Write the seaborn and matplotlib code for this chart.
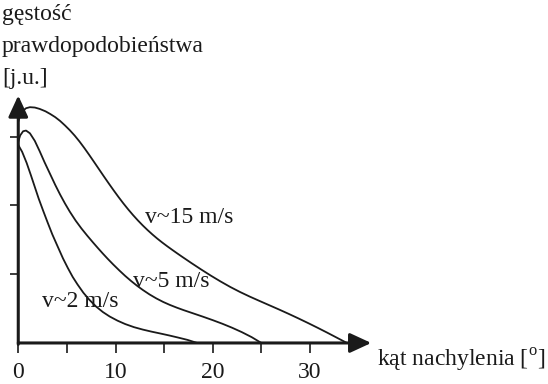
import matplotlib
matplotlib.use("Agg")
import matplotlib.pyplot as plt
import seaborn as sns
import pandas as pd

# curve data (angle in degrees, density in arbitrary units)
x_v15 = [0, 0.2, 0.5, 0.8, 1.2, 1.7, 2.2, 2.8, 3.3, 3.8, 4.3, 4.8, 5.3, 5.8, 6.3, 6.8,
         7.3, 7.8, 8.3, 8.8, 9.3, 9.8, 10.3, 10.8, 11.3, 11.8, 12.3, 12.8, 13.3, 13.8,
         14.3, 14.8, 15.3, 15.8, 16.3, 16.8, 17.8, 18.8, 19.8, 20.8, 21.8, 22.8, 23.8,
         24.8, 25.8, 26.8, 27.8, 28.8, 29.8, 30.8, 31.8, 32.8, 33.8]
y_v15 = [3.22, 3.31, 3.38, 3.415, 3.43, 3.425, 3.405, 3.37, 3.33, 3.285, 3.23, 3.165,
         3.095, 3.017, 2.93, 2.835, 2.735, 2.632, 2.528, 2.424, 2.322, 2.222, 2.125,
         2.032, 1.944, 1.861, 1.783, 1.71, 1.642, 1.578, 1.518, 1.462, 1.409, 1.358,
         1.308, 1.259, 1.163, 1.07, 0.98, 0.895, 0.815, 0.742, 0.675, 0.612, 0.55,
         0.488, 0.424, 0.358, 0.29, 0.22, 0.148, 0.074, 0.0]

x_v5 = [0, 0.2, 0.5, 0.8, 1.2, 1.7, 2.2, 2.7, 3.3, 3.8, 4.3, 4.8, 5.3, 5.9, 6.5, 7.1,
        7.7, 8.2, 8.7, 9.2, 9.75, 10.4, 11.0, 11.6, 12.2, 12.8, 13.5, 14.2, 14.9, 15.6,
        16.3, 17.0, 18.0, 19.0, 20.0, 21.0, 22.0, 23.0, 24.0, 25.0]
y_v5 = [2.93, 3.02, 3.08, 3.09, 3.05, 2.94, 2.79, 2.63, 2.45, 2.30, 2.16, 2.03, 1.91,
        1.78, 1.665, 1.56, 1.46, 1.379, 1.30, 1.224, 1.144, 1.054, 0.975, 0.902, 0.834,
        0.772, 0.706, 0.648, 0.597, 0.553, 0.514, 0.478, 0.43, 0.382, 0.332, 0.279,
        0.221, 0.157, 0.085, 0.0]

x_v2 = [0, 0.4, 0.86, 1.3, 1.7, 2.1, 2.57, 3.0, 3.5, 4.0, 4.6, 5.1, 5.6, 6.1, 6.7, 7.3,
        8.0, 8.7, 9.4, 10.2, 11.0, 11.9, 12.8, 13.7, 14.6, 15.5, 16.4, 17.4, 18.4]
y_v2 = [2.88, 2.78, 2.62, 2.44, 2.27, 2.10, 1.92, 1.76, 1.58, 1.42, 1.23, 1.09, 0.96,
        0.85, 0.73, 0.63, 0.53, 0.45, 0.385, 0.325, 0.275, 0.23, 0.195, 0.165, 0.138,
        0.11, 0.08, 0.045, 0.0]

curve_labels = ["v~15 m/s", "v~5 m/s", "v~2 m/s"]
label_x = [13.0, 11.8, 2.4]
label_y = [1.75, 0.82, 0.53]

x_ticks = [0, 5, 10, 15, 20, 25, 30]
x_ticklabels = ["0", "", "10", "", "20", "", "30"]
y_ticks = [1, 2, 3]

sns.set_theme(style="white")
plt.rcParams["font.family"] = ["Liberation Serif", "DejaVu Serif"]
plt.rcParams["mathtext.fontset"] = "custom"
plt.rcParams["mathtext.rm"] = "Liberation Serif"

ink = "#1a1a1a"

fig = plt.figure(figsize=(5.48, 3.84), dpi=100)
# axes placed so that x=0 sits at px 18, y=0 at px 343
ax = fig.add_axes([10 / 548, 29 / 384, 370 / 548, 265 / 384])
ax.set_xlim(-0.85, 37.2)
ax.set_ylim(-0.175, 3.68)

for xs, ys in [(x_v15, y_v15), (x_v5, y_v5), (x_v2, y_v2)]:
    df = pd.DataFrame({"x": xs, "y": ys})
    sns.lineplot(data=df, x="x", y="y", ax=ax, color=ink, lw=1.3,
                 estimator=None, sort=False)

for lab, lx, ly in zip(curve_labels, label_x, label_y):
    ax.text(lx, ly, lab, fontsize=17, color=ink, va="baseline", ha="left")

# axes drawn as arrows
arrow = dict(arrowstyle="-|>,head_length=0.65,head_width=0.3", mutation_scale=20,
             lw=2.2, color=ink, shrinkA=0, shrinkB=0)
ax.annotate("", xy=(36.3, 0), xytext=(0, 0), arrowprops=arrow, annotation_clip=False)
ax.annotate("", xy=(0, 3.6), xytext=(0, -0.02), arrowprops=arrow, annotation_clip=False)

for s in ax.spines.values():
    s.set_visible(False)
ax.spines["left"].set_position(("data", 0))
ax.spines["bottom"].set_position(("data", 0))

ax.set_xticks(x_ticks)
ax.set_xticklabels(x_ticklabels)
ax.set_yticks(y_ticks)
ax.set_yticklabels([])
ax.tick_params(axis="x", direction="out", length=7, width=1.2, color=ink,
               labelsize=17, labelcolor=ink, pad=7, bottom=True)
ax.tick_params(axis="y", direction="out", length=6, width=1.2, color=ink, left=True)
ax.set_xlabel("")
ax.set_ylabel("")

fig.text(2 / 548, 1 - 20 / 384, "gęstość", fontsize=17, color=ink, va="baseline")
fig.text(2 / 548, 1 - 52 / 384, "prawdopodobieństwa", fontsize=17, color=ink, va="baseline")
fig.text(2 / 548, 1 - 84 / 384, "[j.u.]", fontsize=17, color=ink, va="baseline")
fig.text(377 / 548, 1 - 367 / 384, "kąt nachylenia [$^{\\mathrm{o}}$]", fontsize=17,
         color=ink, va="baseline")

fig.savefig("out.png", dpi=100)
